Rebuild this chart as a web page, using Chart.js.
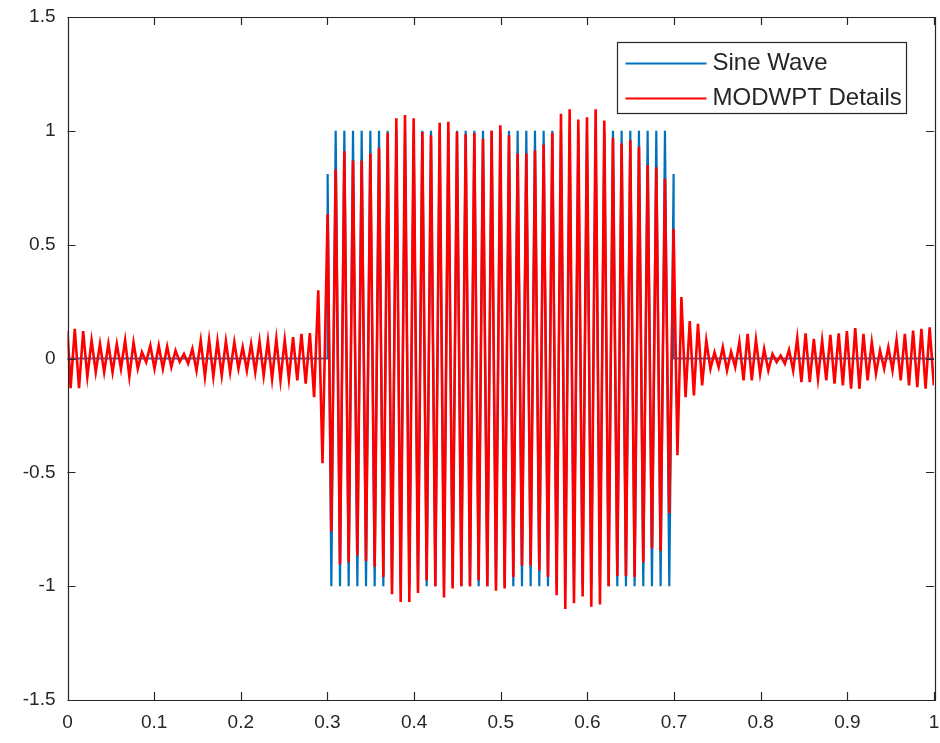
<!DOCTYPE html>
<html>
<head>
<meta charset="utf-8">
<script src="https://cdn.jsdelivr.net/npm/chart.js@4.4.0/dist/chart.umd.min.js"></script>
<style>
  html, body { margin: 0; padding: 0; background: #fff; }
  #wrap { width: 940px; height: 743px; }
</style>
</head>
<body>
<div id="wrap"><canvas id="myChart" width="940" height="743"></canvas></div>
<script>
// axis ticks
const xTicks = [0, 0.1, 0.2, 0.3, 0.4, 0.5, 0.6, 0.7, 0.8, 0.9, 1];
const xTickLabels = ["0", "0.1", "0.2", "0.3", "0.4", "0.5", "0.6", "0.7", "0.8", "0.9", "1"];
const yTicks = [-1.5, -1, -0.5, 0, 0.5, 1, 1.5];
const yTickLabels = ["-1.5", "-1", "-0.5", "0", "0.5", "1", "1.5"];

const seriesNames = ["Sine Wave", "MODWPT Details"];

// burst part (0.3 - 0.7), peaks/troughs
const burstTime = [
    0.3002,
    0.3045, 0.3095, 0.3145, 0.3195, 0.3245, 0.3295, 0.3345, 0.3395, 0.3445, 0.3495,
    0.3545, 0.3595, 0.3645, 0.3695, 0.3745, 0.3795, 0.3845, 0.3895, 0.3945, 0.3995,
    0.4045, 0.4095, 0.4145, 0.4195, 0.4245, 0.4295, 0.4345, 0.4395, 0.4445, 0.4495,
    0.4545, 0.4595, 0.4645, 0.4695, 0.4745, 0.4795, 0.4845, 0.4895, 0.4945, 0.4995,
    0.5045, 0.5095, 0.5145, 0.5195, 0.5245, 0.5295, 0.5345, 0.5395, 0.5445, 0.5495,
    0.5545, 0.5595, 0.5645, 0.5695, 0.5745, 0.5795, 0.5845, 0.5895, 0.5945, 0.5995,
    0.6045, 0.6095, 0.6145, 0.6195, 0.6245, 0.6295, 0.6345, 0.6395, 0.6445, 0.6495,
    0.6545, 0.6595, 0.6645, 0.6695, 0.6745, 0.6795, 0.6845, 0.6895, 0.6945,
    0.6995
];
const burstSine = [
    0.81,
    -1, 1, -1, 1, -1, 1, -1, 1, -1, 1,
    -1, 1, -1, 1, -1, 1, -1, 1, -1, 1,
    -1, 1, -1, 1, -1, 1, -1, 1, -1, 1,
    -1, 1, -1, 1, -1, 1, -1, 1, -1, 1,
    -1, 1, -1, 1, -1, 1, -1, 1, -1, 1,
    -1, 1, -1, 1, -1, 1, -1, 1, -1, 1,
    -1, 1, -1, 1, -1, 1, -1, 1, -1, 1,
    -1, 1, -1, 1, -1, 1, -1, 1, -1,
    0.81
];
const burstDetails = [
    0.635,
    -0.76, 0.83, -0.905, 0.91, -0.895, 0.87, -0.865, 0.87, -0.89, 0.90,
    -0.915, 0.925, -0.96, 0.99, -1.035, 1.055, -1.07, 1.07, -1.07, 1.055,
    -1.03, 0.995, -0.975, 0.98, -1.0, 1.035, -1.05, 1.04, -1.01, 0.995,
    -1.0, 0.985, -1.0, 0.99, -0.975, 0.965, -1.0, 1.0, -1.02, 1.025,
    -1.01, 0.98, -0.96, 0.9, -0.91, 0.9, -0.91, 0.914, -0.93, 0.94,
    -0.96, 0.99, -1.04, 1.075, -1.1, 1.095, -1.075, 1.05, -1.045, 1.06,
    -1.09, 1.095, -1.08, 1.045, -1.0, 0.97, -0.955, 0.944, -0.955, 0.96,
    -0.96, 0.93, -0.895, 0.85, -0.835, 0.84, -0.845, 0.79, -0.68,
    0.57
];

// sine wave: zero outside the burst
const sineTime = [0, 0.3].concat(burstTime, [0.6995, 1]);
const sineWave = [0, 0].concat(burstSine, [0, 0]);

// MODWPT details before the burst
const leftTime = [
    0, 0.0036, 0.0084, 0.0133, 0.0181, 0.0229, 0.0278, 0.0326, 0.0375, 0.0423,
    0.0472, 0.0520, 0.0569, 0.0617, 0.0665, 0.0714, 0.0762, 0.0811, 0.0859, 0.0908,
    0.0956, 0.1004, 0.1053, 0.1101, 0.1150, 0.1198, 0.1247, 0.1295, 0.1344, 0.1392,
    0.1441, 0.1489, 0.1538, 0.1586, 0.1634, 0.1683, 0.1731, 0.1780, 0.1828, 0.1877,
    0.1925, 0.1973, 0.2022, 0.2070, 0.2119, 0.2167, 0.2216, 0.2264, 0.2313, 0.2361,
    0.2410, 0.2458, 0.2507, 0.2555, 0.2603, 0.2652, 0.2700, 0.2749, 0.2797, 0.2846,
    0.2894, 0.2943
];
const leftDetails = [
    0.12, -0.13, 0.13, -0.13, 0.12, -0.08, 0.08, -0.06, 0.064, -0.06,
    0.064, -0.06, 0.064, -0.045, 0.08, -0.08, 0.07, -0.045, 0.028, -0.016,
    0.057, -0.045, 0.057, -0.045, 0.053, -0.038, 0.035, -0.015, 0.02, -0.023,
    0.042, -0.053, 0.079, -0.08, 0.082, -0.08, 0.076, -0.075, 0.076, -0.06,
    0.072, -0.045, 0.05, -0.053, 0.064, -0.06, 0.076, -0.075, 0.079, -0.09,
    0.086, -0.096, 0.082, -0.09, 0.094, -0.096, 0.108, -0.11, 0.112, -0.17,
    0.30, -0.46
];

// MODWPT details after the burst
const rightTime = [
    0.7039, 0.7085, 0.7133, 0.7181, 0.7229, 0.7276, 0.7324, 0.7372, 0.7420, 0.7467,
    0.7515, 0.7563, 0.7611, 0.7658, 0.7706, 0.7754, 0.7802, 0.7849, 0.7897, 0.7945,
    0.7993, 0.8040, 0.8088, 0.8136, 0.8184, 0.8231, 0.8279, 0.8327, 0.8375, 0.8422,
    0.8470, 0.8518, 0.8566, 0.8613, 0.8661, 0.8709, 0.8757, 0.8804, 0.8852, 0.8900,
    0.8948, 0.8995, 0.9043, 0.9091, 0.9139, 0.9186, 0.9234, 0.9282, 0.9330, 0.9377,
    0.9425, 0.9473, 0.9521, 0.9568, 0.9616, 0.9664, 0.9712, 0.9759, 0.9807, 0.9855,
    0.9903, 0.9950, 0.9998
];
const rightDetails = [
    -0.425, 0.27, -0.17, 0.164, -0.162, 0.152, -0.118, 0.079, -0.045, 0.027,
    -0.038, 0.05, -0.053, 0.03, -0.038, 0.072, -0.096, 0.108, -0.096, 0.082,
    -0.067, 0.042, -0.053, 0.02, -0.016, 0.013, -0.023, 0.038, -0.053, 0.09,
    -0.104, 0.11, -0.104, 0.086, -0.09, 0.079, -0.096, 0.104, -0.11, 0.11,
    -0.118, 0.12, -0.133, 0.134, -0.133, 0.108, -0.096, 0.072, -0.067, 0.035,
    -0.045, 0.05, -0.053, 0.082, -0.096, 0.108, -0.118, 0.123, -0.126, 0.13,
    -0.133, 0.137, -0.118
];

const detailTime = leftTime.concat(burstTime, rightTime);
const modwptDetails = leftDetails.concat(burstDetails, rightDetails);

const toPoints = (xs, ys) => xs.map((x, i) => ({ x: x, y: ys[i] }));

const axisColor = "#262626";
const fontFamily = "'Liberation Sans', Arial, Helvetica, sans-serif";

// MATLAB style box, inward ticks and legend
const matlabAxes = {
    id: "matlabAxes",
    afterDraw(chart) {
        const ctx = chart.ctx;
        const a = chart.chartArea;
        const xs = chart.scales.x;
        const ys = chart.scales.y;
        const tl = 8;
        ctx.save();
        ctx.strokeStyle = axisColor;
        ctx.lineWidth = 1.2;
        ctx.beginPath();
        ctx.rect(Math.round(a.left) + 0.5, Math.round(a.top) + 0.5,
                 Math.round(a.right - a.left), Math.round(a.bottom - a.top));
        xTicks.forEach((v) => {
            const px = Math.round(xs.getPixelForValue(v)) + 0.5;
            ctx.moveTo(px, a.bottom);
            ctx.lineTo(px, a.bottom - tl);
            ctx.moveTo(px, a.top);
            ctx.lineTo(px, a.top + tl);
        });
        yTicks.forEach((v) => {
            const py = Math.round(ys.getPixelForValue(v)) + 0.5;
            ctx.moveTo(a.left, py);
            ctx.lineTo(a.left + tl, py);
            ctx.moveTo(a.right, py);
            ctx.lineTo(a.right - tl, py);
        });
        ctx.stroke();

        // legend box
        const bw = 289, bh = 71;
        const bx = Math.round(a.right - 317) + 0.5;
        const by = Math.round(a.top + 25) + 0.5;
        ctx.fillStyle = "#fff";
        ctx.fillRect(bx, by, bw, bh);
        ctx.strokeStyle = axisColor;
        ctx.lineWidth = 1.2;
        ctx.strokeRect(bx, by, bw, bh);
        ctx.font = "24px " + fontFamily;
        ctx.textBaseline = "middle";
        ctx.textAlign = "left";
        chart.data.datasets.forEach((ds, i) => {
            const rowY = by + 21 + i * 35;
            ctx.strokeStyle = ds.borderColor;
            ctx.lineWidth = 2;
            ctx.beginPath();
            ctx.moveTo(bx + 8, rowY);
            ctx.lineTo(bx + 89, rowY);
            ctx.stroke();
            ctx.fillStyle = axisColor;
            ctx.fillText(ds.label, bx + 95, rowY);
        });
        ctx.restore();
    },
};

const ctx = document.getElementById("myChart");
const myChart = new Chart(ctx, {
    type: "line",
    data: {
        datasets: [
            {
                label: seriesNames[0],
                data: toPoints(sineTime, sineWave),
                borderColor: "rgb(0, 114, 189)",
                borderWidth: 2.2,
                pointRadius: 0,
                tension: 0,
                order: 2,
            },
            {
                label: seriesNames[1],
                data: toPoints(detailTime, modwptDetails),
                borderColor: "rgb(255, 0, 0)",
                borderWidth: 2.6,
                pointRadius: 0,
                tension: 0,
                order: 1,
            },
        ],
    },
    options: {
        responsive: false,
        animation: false,
        layout: { padding: { top: 17, right: 6, left: 0, bottom: 0 } },
        plugins: {
            legend: { display: false },
            tooltip: { enabled: false },
        },
        scales: {
            x: {
                type: "linear",
                min: 0,
                max: 1,
                afterBuildTicks: (scale) => {
                    scale.ticks = xTicks.map((v) => ({ value: v }));
                },
                afterFit: (scale) => {
                    scale.height = 43;
                    scale.paddingLeft = 0;
                    scale.paddingRight = 0;
                },
                grid: { display: false, drawTicks: false },
                border: { display: false },
                ticks: {
                    autoSkip: false,
                    maxRotation: 0,
                    padding: 11,
                    color: axisColor,
                    font: { family: fontFamily, size: 19 },
                    callback: (v, i) => xTickLabels[i],
                },
            },
            y: {
                type: "linear",
                min: -1.5,
                max: 1.5,
                afterBuildTicks: (scale) => {
                    scale.ticks = yTicks.map((v) => ({ value: v }));
                },
                afterFit: (scale) => {
                    scale.width = 67.5;
                    scale.paddingTop = 0;
                    scale.paddingBottom = 0;
                },
                grid: { display: false, drawTicks: false },
                border: { display: false },
                ticks: {
                    autoSkip: false,
                    padding: 12,
                    color: axisColor,
                    font: { family: fontFamily, size: 19 },
                    callback: (v, i) => yTickLabels[i],
                },
            },
        },
    },
    plugins: [matlabAxes],
});
</script>
</body>
</html>
